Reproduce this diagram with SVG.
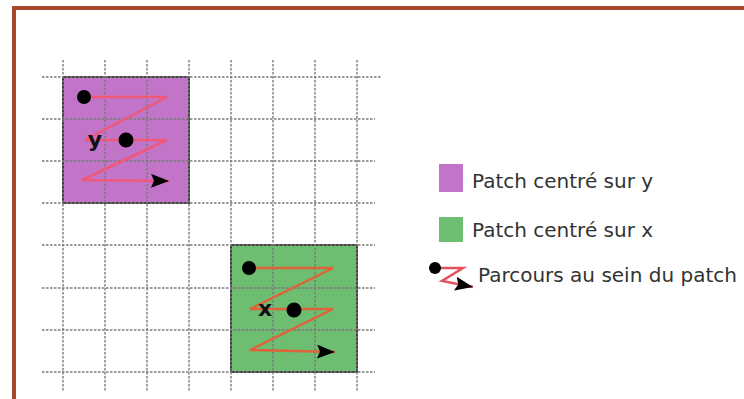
<svg xmlns="http://www.w3.org/2000/svg" width="744" height="399" viewBox="0 0 744 399">
<style>
.grid line{stroke:#7a7a7a;stroke-width:1.4;stroke-dasharray:2.5 1.5}
.patch{stroke:#3a3a3a;stroke-width:2}
.zig{fill:none;stroke-width:2.5;stroke-linejoin:miter}
.dot{fill:#000}
.lbl{font-family:"DejaVu Sans",Verdana,sans-serif;font-size:20px;fill:#333}
.var{font-family:"DejaVu Sans",Arial,sans-serif;font-size:22px;font-weight:bold;fill:#111}
</style>
<defs>
<marker id="ah" viewBox="0 0 18 14" refX="18" refY="7" markerWidth="18" markerHeight="14" markerUnits="userSpaceOnUse" orient="auto">
<path d="M0,0 L18,7 L0,14 L3,7 z" fill="#000"/>
</marker>
</defs>
<rect x="0" y="0" width="744" height="399" fill="#fff"/>
<rect id="frame" x="14" y="8" width="760" height="420" fill="none" stroke="#a24a2a" stroke-width="4"/>
<g id="patch-y">
<rect class="patch" x="63" y="77" width="126" height="126" fill="#c274c9"/>
</g>
<g id="patch-x">
<rect class="patch" x="231" y="245" width="126" height="127" fill="#6dbe70"/>
</g>
<g class="grid" id="grid">
<line x1="42" y1="77" x2="382" y2="77"/>
<line x1="42" y1="119" x2="375" y2="119"/>
<line x1="42" y1="161" x2="375" y2="161"/>
<line x1="42" y1="203" x2="375" y2="203"/>
<line x1="42" y1="245" x2="375" y2="245"/>
<line x1="42" y1="288" x2="375" y2="288"/>
<line x1="42" y1="330" x2="375" y2="330"/>
<line x1="42" y1="372" x2="375" y2="372"/>
<line x1="63" y1="60" x2="63" y2="392"/>
<line x1="105" y1="60" x2="105" y2="392"/>
<line x1="147" y1="60" x2="147" y2="392"/>
<line x1="189" y1="60" x2="189" y2="392"/>
<line x1="231" y1="60" x2="231" y2="392"/>
<line x1="273" y1="60" x2="273" y2="392"/>
<line x1="315" y1="60" x2="315" y2="392"/>
<line x1="357" y1="60" x2="357" y2="392"/>
</g>
<g id="connectors">
<polyline class="zig" stroke="#f0587a" points="84,97 167,97 85,140 167,140 82,180 169,181" marker-end="url(#ah)"/>
<polyline class="zig" stroke="#e0623c" points="249,268 333,268 250,309 333,309 250,350 335,352" marker-end="url(#ah)"/>
</g>
<g id="y-markers">
<circle class="dot" cx="84" cy="97" r="7"/>
<circle class="dot" cx="126" cy="140" r="7.5"/>
<text class="var" x="95" y="147" text-anchor="middle">y</text>
</g>
<g id="x-markers">
<circle class="dot" cx="249" cy="268" r="7"/>
<circle class="dot" cx="294" cy="310" r="7.5"/>
<text class="var" x="265" y="316" text-anchor="middle">x</text>
</g>
<g id="legend">
<rect x="439" y="164" width="24" height="28" fill="#c274c9"/>
<text class="lbl" x="472" y="188">Patch centré sur y</text>
<rect x="439" y="217" width="24" height="25" fill="#6dbe70"/>
<text class="lbl" x="472" y="237">Patch centré sur x</text>
<polyline class="zig" stroke="#e5505e" points="435,268 463,268 442,281 473,287" marker-end="url(#ah)"/>
<circle class="dot" cx="435" cy="268" r="6"/>
<text class="lbl" x="478" y="282">Parcours au sein du patch</text>
</g>
</svg>
